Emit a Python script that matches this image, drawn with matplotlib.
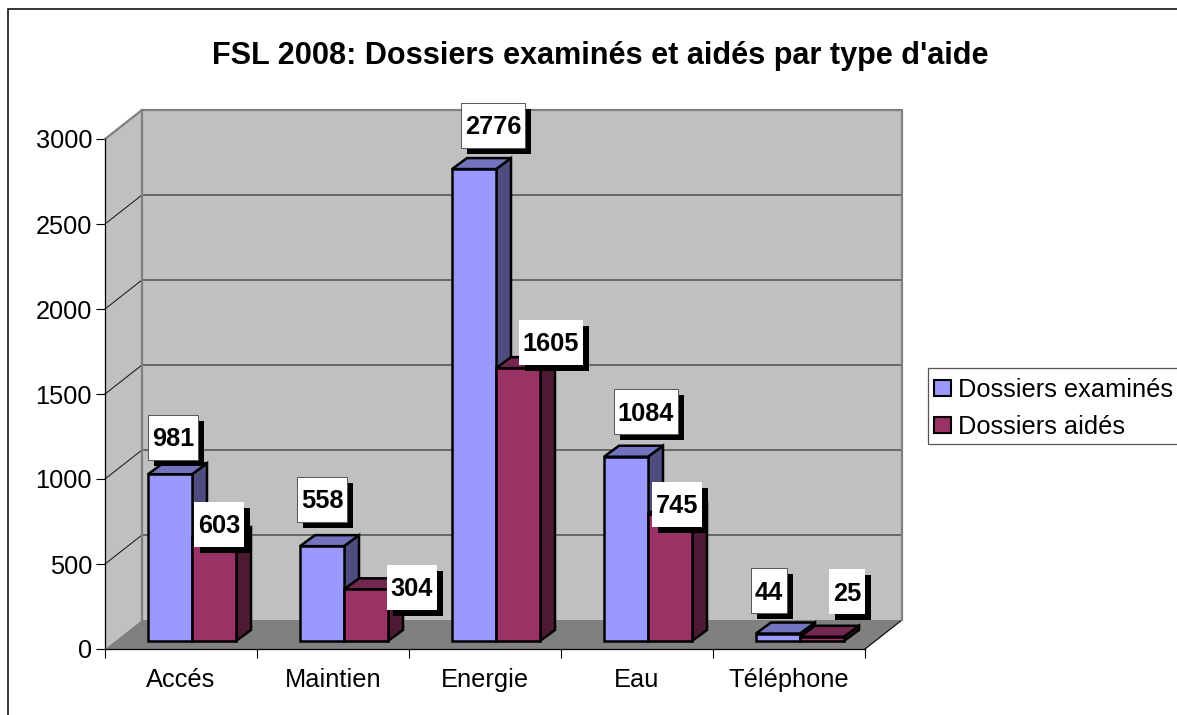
import matplotlib
matplotlib.use('Agg')
from matplotlib import pyplot as plt
from matplotlib.patches import Polygon, Rectangle, Patch
from matplotlib.transforms import Affine2D

categories = ['Accés', 'Maintien', 'Energie', 'Eau', 'Téléphone']
examines = [981, 558, 2776, 1084, 44]
aides = [603, 304, 1605, 745, 25]
yticks = [0, 500, 1000, 1500, 2000, 2500, 3000]

# label box shift from the top of each bar, in pixels
shift_examines = [(3, 37), (0, 47), (19, 44), (20, 45), (-9, 43)]
shift_aides = [(5, 14), (46, 2), (33, 26), (7, 10), (25, 45)]

plt.rcParams['font.family'] = ['Liberation Sans', 'DejaVu Sans']

W, H = 1177, 715
fig = plt.figure(figsize=(W / 100, H / 100), dpi=100)
ax = fig.add_axes([105 / W, (H - 649) / H, 760 / W, 510 / H])
ax.set_xlim(0, 5)
ax.set_ylim(0, 3000)
ax.patch.set_visible(False)

# pixels to data units
ux = 5 / 760
uy = 3000 / 510

wall_dx, wall_dy = 37 * ux, 29 * uy
front_dx, front_dy = 11 * ux, 8 * uy
bar_dx, bar_dy = 15 * ux, 11 * uy
bar_w = 44 * ux
bar_start = 32 * ux

# walls and floor
ax.add_patch(Polygon([(0, 0), (wall_dx, wall_dy), (wall_dx, 3000 + wall_dy), (0, 3000)],
                     fc='#C0C0C0', ec='none', clip_on=False, zorder=1))
ax.add_patch(Rectangle((wall_dx, wall_dy), 5, 3000, fc='#C0C0C0', ec='none', clip_on=False, zorder=1))
ax.add_patch(Polygon([(0, 0), (5, 0), (5 + wall_dx, wall_dy), (wall_dx, wall_dy)],
                     fc='#808080', ec='none', clip_on=False, zorder=1))

for v in yticks[1:-1]:
    ax.plot([0, wall_dx, 5 + wall_dx], [v, v + wall_dy, v + wall_dy], color='#1a1a1a', lw=0.75,
            clip_on=False, zorder=2)
ax.plot([5, 5 + wall_dx], [0, wall_dy], color='black', lw=0.8, clip_on=False, zorder=2)
ax.plot([0, wall_dx, 5 + wall_dx, 5 + wall_dx], [3000, 3000 + wall_dy, 3000 + wall_dy, wall_dy],
        color='#808080', lw=1.6, clip_on=False, zorder=2)
ax.plot([wall_dx, wall_dx], [wall_dy, 3000 + wall_dy], color='#808080', lw=1.6, clip_on=False, zorder=2)


def draw_bar(x, v, front, top, side, z):
    y0 = front_dy
    y1 = front_dy + v
    x0 = x + front_dx
    x1 = x0 + bar_w
    style = dict(ec='black', lw=1.8, joinstyle='miter', clip_on=False, zorder=z)
    ax.add_patch(Polygon([(x1, y0), (x1 + bar_dx, y0 + bar_dy), (x1 + bar_dx, y1 + bar_dy), (x1, y1)],
                         fc=side, **style))
    ax.add_patch(Polygon([(x0, y1), (x1, y1), (x1 + bar_dx, y1 + bar_dy), (x0 + bar_dx, y1 + bar_dy)],
                         fc=top, **style))
    ax.add_patch(Rectangle((x0, y0), bar_w, v, fc=front, **style))


for i in range(len(categories)):
    draw_bar(i + bar_start, examines[i], '#9999FF', '#7373BF', '#4D4D80', 3)
    draw_bar(i + bar_start + bar_w, aides[i], '#993366', '#732650', '#4D1A33', 3)

# axes, ticks
for s in ['top', 'right']:
    ax.spines[s].set_visible(False)
for s in ['left', 'bottom']:
    ax.spines[s].set_linewidth(0.9)
    ax.spines[s].set_zorder(2.5)
ax.set_yticks(yticks)
ax.set_xticks(range(6))
ax.set_xticklabels([])
ax.set_xticks([i + 0.5 for i in range(5)], categories, minor=True)
ax.tick_params(axis='both', which='major', length=6.5, width=0.8, labelsize=18.3, pad=2.8)
ax.tick_params(axis='x', which='minor', length=0, labelsize=18.3, pad=13.5)
for t in ax.get_yticklabels():
    t.set_va('center_baseline')


def box_label(x, v, shift, text, edge):
    cx, cy = ax.transData.transform((x + front_dx + bar_w / 2, front_dy + v))
    cx += shift[0]
    cy += shift[1]
    w = 14 * len(text) + 8
    h = 45
    fig.add_artist(Rectangle((cx - w / 2 + 6, cy - h / 2 - 6), w, h, transform=Affine2D(),
                             fc='black', ec='none', zorder=5))
    fig.add_artist(Rectangle((cx - w / 2, cy - h / 2), w, h, transform=Affine2D(),
                             fc='white', ec=edge, lw=0.7, zorder=5))
    fig.text(cx / W, (cy - 2) / H, text, ha='center', va='center', fontsize=18.3, fontweight='bold',
             color='black', zorder=6)


for i in range(len(categories)):
    box_label(i + bar_start, examines[i], shift_examines[i], str(examines[i]), '#555555')
    box_label(i + bar_start + bar_w, aides[i], shift_aides[i], str(aides[i]), 'none')

fig.text(600 / W, (H - 56) / H, "FSL 2008: Dossiers examinés et aidés par type d'aide",
         ha='center', va='center', fontsize=22.1, fontweight='bold')

# legend frame goes past the image edge, drawn apart from the entries
fig.add_artist(Rectangle((927.5, H - 444), 260, 76, transform=Affine2D(), fc='white', ec='#555555', lw=0.9))
handles = [Patch(fc='#9999FF', ec='black', lw=1.5), Patch(fc='#993366', ec='black', lw=1.5)]
leg = fig.legend(handles, ['Dossiers examinés', 'Dossiers aidés'], loc='upper left',
                 bbox_to_anchor=(927 / W, (H - 371) / H), fontsize=18.3, frameon=False,
                 borderpad=0.28, borderaxespad=0,
                 handlelength=0.67, handleheight=0.63, handletextpad=0.28, labelspacing=0.5)

# chart frame, runs off the image on the right and bottom
fig.add_artist(Rectangle((8.3, -5), W + 5, H - 9 + 5, transform=Affine2D(), fc='none', ec='black', lw=1.1))

fig.savefig('out.png', dpi=100)
